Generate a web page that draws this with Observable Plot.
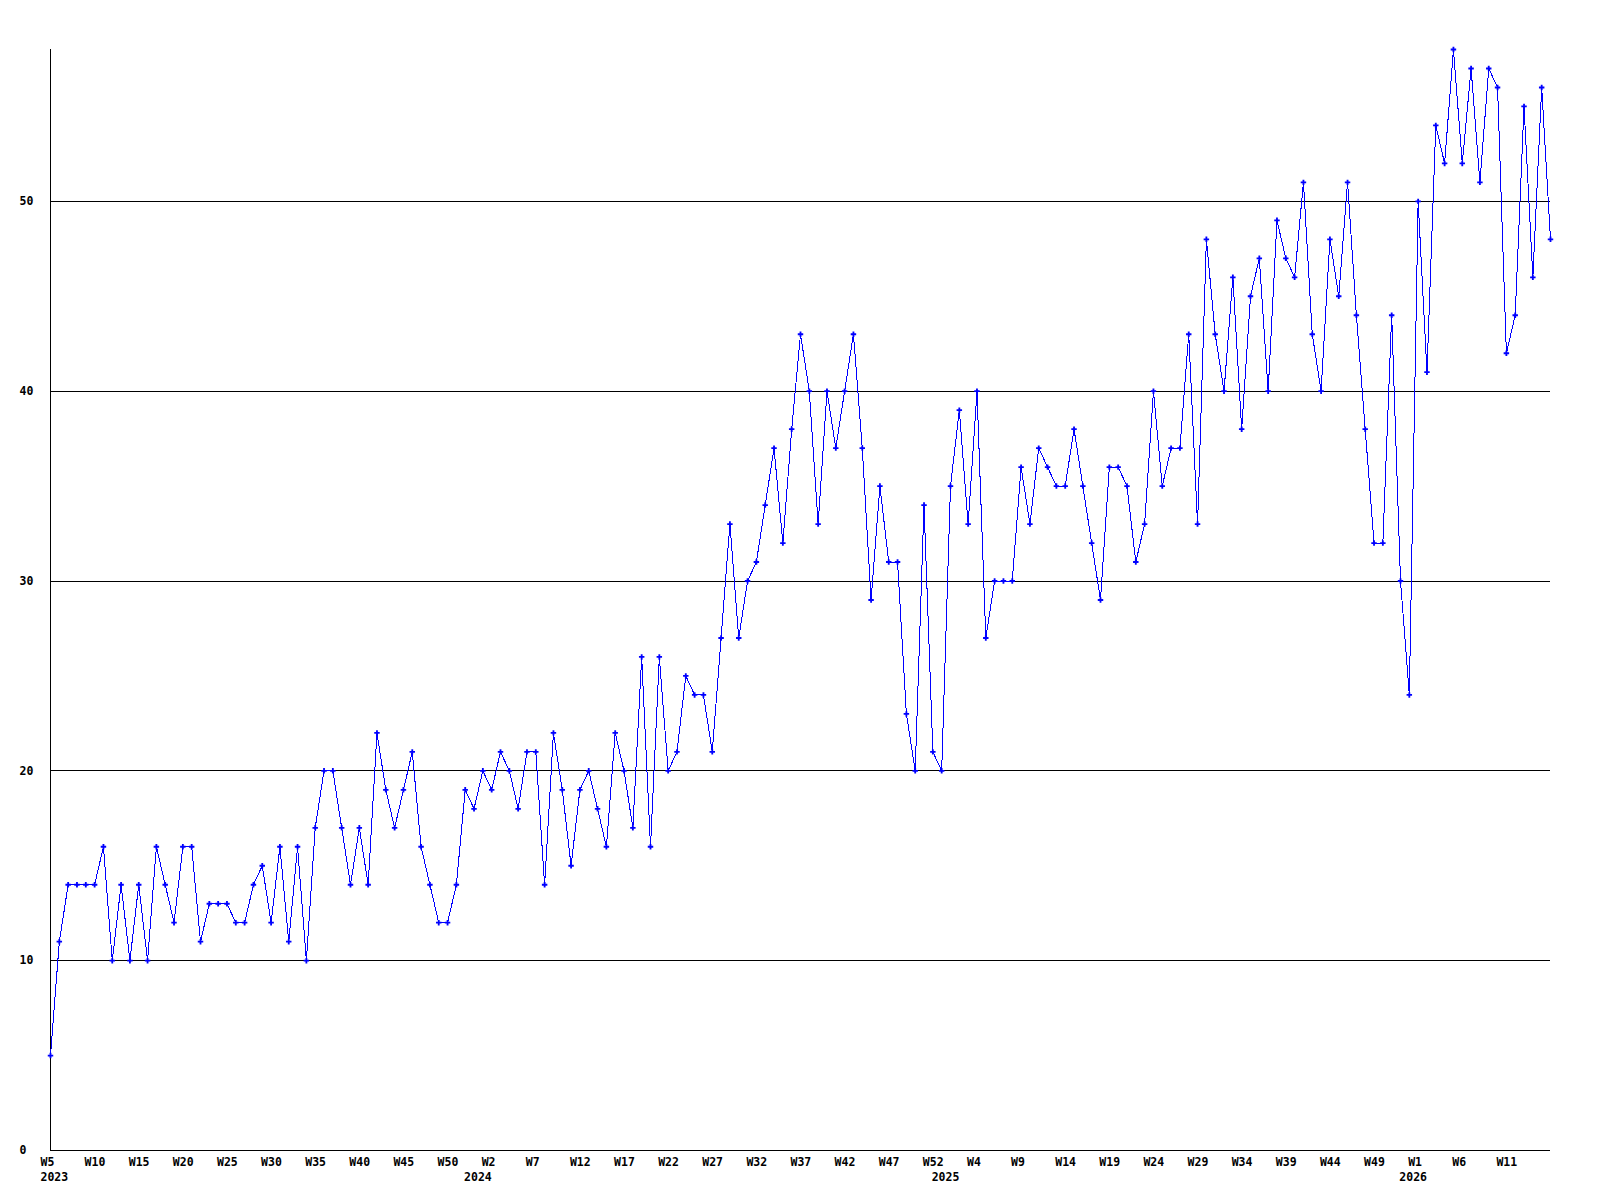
<!DOCTYPE html>
<html>
<head>
<meta charset="utf-8">
<script src="https://cdn.jsdelivr.net/npm/d3@7"></script>
<script src="https://cdn.jsdelivr.net/npm/@observablehq/plot@0.6"></script>
<style>
  html, body { margin: 0; padding: 0; background: #ffffff; }
  #chart svg { display: block; }
</style>
</head>
<body>
<div id="chart"></div>
<script>
// Weekly values, in order, starting at 2023 W5
const values = [
  5, 11, 14, 14, 14, 14, 16, 10, 14, 10, 14, 10, 16, 14, 12, 16, 16, 11, 13, 13,
  13, 12, 12, 14, 15, 12, 16, 11, 16, 10,
  17, 20, 20, 17, 14, 17, 14, 22, 19, 17, 19, 21, 16, 14, 12, 12, 14, 19, 18, 20,
  19, 21, 20, 18, 21, 21, 14, 22, 19, 15, 19, 20, 18,
  16, 22, 20, 17, 26, 16, 26, 20, 21, 25, 24, 24, 21, 27, 33, 27, 30, 31, 34, 37,
  32, 38, 43, 40, 33, 40, 37, 40, 43, 37, 29, 35, 31, 31,
  23, 20, 34, 21, 20, 35, 39, 33, 40, 27, 30, 30, 30, 36, 33, 37, 36, 35, 35, 38,
  35, 32, 29, 36, 36, 35, 31, 33,
  40, 35, 37, 37, 43, 33, 48, 43, 40, 46, 38, 45, 47, 40, 49, 47, 46, 51, 43, 40,
  48, 45, 51, 44, 38, 32, 32, 44, 30,
  24, 50, 41, 54, 52, 58, 52, 57, 51, 57, 56, 42, 44, 55, 46, 56, 48
];

// Week numbering per year (weeks run W0..W52 in this series)
const years     = [2023, 2024, 2025, 2026];
const firstWeek = [5, 0, 0, 0];
const lastWeek  = [52, 52, 52, 16];

// Y axis labels and grid lines
const yTicks    = [0, 10, 20, 30, 40, 50];
const gridLines = [10, 20, 30, 40, 50];

const rows = [];
{
  let i = 0;
  years.forEach((yr, k) => {
    for (let w = firstWeek[k]; w <= lastWeek[k]; w++) {
      rows.push({ i, year: yr, week: "W" + w, v: values[i] });
      i++;
    }
  });
}

const xTicks = rows.filter(d => d.i % 5 === 0 && d.i < values.length - 1);
const yearStarts = years.map(y => rows.find(d => d.year === y));

const font = "DejaVu Sans Mono, Liberation Mono, monospace";

const chart = Plot.plot({
  width: 1600,
  height: 1200,
  marginLeft: 50,
  marginRight: 50,
  marginTop: 49,
  marginBottom: 50,
  x: { type: "linear", domain: [0, values.length - 1], axis: null },
  y: { domain: [0, d3.max(values)], axis: null },
  style: { background: "#ffffff", fontFamily: font, fontSize: "11.5px", color: "#000" },
  marks: [
    Plot.ruleY(gridLines, { stroke: "#000", strokeWidth: 1, shapeRendering: "crispEdges" }),
    Plot.ruleY([0], { stroke: "#000", strokeWidth: 1, shapeRendering: "crispEdges" }),
    Plot.ruleX([0], { stroke: "#000", strokeWidth: 1, shapeRendering: "crispEdges" }),
    Plot.line(rows, { x: "i", y: "v", stroke: "#0000ff", strokeWidth: 1, shapeRendering: "crispEdges" }),
    Plot.dot(rows, { x: "i", y: "v", symbol: "cross", r: 2.3, fill: "#0000ff", stroke: "none" }),
    Plot.text(yTicks, {
      y: d => d, text: d => String(d), frameAnchor: "left", textAnchor: "start",
      dx: -31, fontWeight: "bold", fill: "#000", lineAnchor: "middle"
    }),
    Plot.text(xTicks, {
      x: "i", text: "week", frameAnchor: "bottom", textAnchor: "start",
      dx: -10, dy: 12, lineAnchor: "middle", fontWeight: "bold", fill: "#000"
    }),
    Plot.text(yearStarts, {
      x: "i", text: d => String(d.year), frameAnchor: "bottom", textAnchor: "start",
      dx: -10, dy: 27, lineAnchor: "middle", fontWeight: "bold", fill: "#000"
    })
  ]
});

document.getElementById("chart").appendChild(chart);
</script>
</body>
</html>
